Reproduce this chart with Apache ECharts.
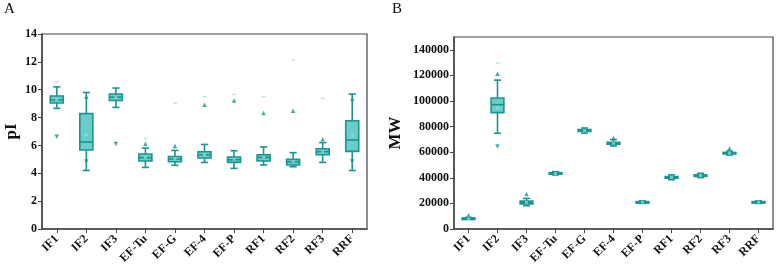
<!DOCTYPE html>
<html>
<head>
<meta charset="utf-8">
<script src="https://cdn.jsdelivr.net/npm/echarts@6/dist/echarts.min.js"></script>
<style>html,body{margin:0;padding:0;background:#fff}#c{width:778px;height:275px}</style>
</head>
<body>
<div id="c"></div>
<script>
const categories = ['IF1','IF2','IF3','EF-Tu','EF-G','EF-4','EF-P','RF1','RF2','RF3','RRF'];

// pI: [lower whisker, Q1, median, Q3, upper whisker]
const piBox = [
  [8.66, 9.05, 9.26, 9.55, 10.2],
  [4.2, 5.67, 6.25, 8.28, 9.8],
  [8.73, 9.23, 9.47, 9.69, 10.12],
  [4.42, 4.88, 5.12, 5.38, 5.81],
  [4.57, 4.83, 5.02, 5.21, 5.64],
  [4.78, 5.1, 5.33, 5.55, 6.07],
  [4.35, 4.78, 4.97, 5.17, 5.62],
  [4.6, 4.88, 5.14, 5.33, 5.89],
  [4.47, 4.6, 4.81, 5.0, 5.48],
  [4.78, 5.33, 5.55, 5.76, 6.2],
  [4.2, 5.57, 6.39, 7.77, 9.69]
];
const piMean = [9.3, 6.77, 9.45, 5.15, 5.05, 5.35, 5.0, 5.15, 4.85, 5.55, 6.7];
const piOutliersUp = [['IF2',9.5],['EF-Tu',6.12],['EF-G',5.96],['EF-4',8.92],['EF-P',9.23],['RF1',8.33],['RF2',8.49],['RF3',6.45],['RRF',9.35]];
const piOutliersDown = [['IF1',6.63],['IF2',4.85],['IF3',6.1],['RRF',4.85]];
const piExtremes = [['IF1',10.55],['EF-Tu',6.48],['EF-G',9.02],['EF-4',9.5],['EF-P',9.66],['RF1',9.5],['RF2',12.15],['RF3',9.38]];

// MW
const mwBox = [
  [7600, 7900, 8300, 8600, 9000],
  [74800, 90900, 97100, 102300, 116300],
  [18200, 19600, 20800, 21800, 23900],
  [42200, 42900, 43400, 44000, 44800],
  [74800, 76200, 76900, 77600, 78900],
  [64900, 66300, 67000, 67700, 69900],
  [20000, 20600, 21000, 21400, 22000],
  [38500, 39600, 40300, 41000, 42300],
  [40200, 41200, 41800, 42300, 43500],
  [57800, 58800, 59300, 59800, 60900],
  [20000, 20600, 21000, 21400, 22000]
];
const mwMean = [8300, 94500, 20800, 43400, 76900, 67000, 21000, 40300, 41800, 59300, 21000];
const mwOutliersUp = [['IF1',10800],['IF2',121300],['IF3',27300],['EF-4',71000],['RF3',62900]];
const mwOutliersDown = [['IF2',64400]];
const mwExtremes = [['IF2',129500]];

const piTicks = {min:0, max:14, interval:2};
const mwTicks = {min:0, max:150000, interval:20000};

const teal = '#1a958f';
const fill = 'rgba(80,196,190,0.85)';
const font = 'Liberation Serif';

function renderBox(params, api) {
  const x = api.value(0);
  const pts = [1,2,3,4,5].map(k => api.coord([x, api.value(k)]));
  const bw = api.size([1,0])[0] * 0.44;
  const cw = bw * 0.55;
  const cx = pts[0][0];
  const ls = {stroke: teal, lineWidth: 1.6};
  return {
    type: 'group',
    children: [
      {type:'line', shape:{x1:cx,y1:pts[4][1],x2:cx,y2:pts[3][1]}, style:ls},
      {type:'line', shape:{x1:cx,y1:pts[1][1],x2:cx,y2:pts[0][1]}, style:ls},
      {type:'line', shape:{x1:cx-cw/2,y1:pts[4][1],x2:cx+cw/2,y2:pts[4][1]}, style:ls},
      {type:'line', shape:{x1:cx-cw/2,y1:pts[0][1],x2:cx+cw/2,y2:pts[0][1]}, style:ls},
      {type:'rect', shape:{x:cx-bw/2,y:pts[3][1],width:bw,height:Math.max(pts[1][1]-pts[3][1],1.5)}, style:{fill:fill, stroke:teal, lineWidth:1.6}},
      {type:'line', shape:{x1:cx-bw/2,y1:pts[2][1],x2:cx+bw/2,y2:pts[2][1]}, style:{stroke:teal, lineWidth:1.6}}
    ]
  };
}

function axesFor(g, ticks, name, gap) {
  return {
    x: {
      type:'category', gridIndex:g, data:categories, boundaryGap:true,
      axisLine:{lineStyle:{color:'#444', width:1.5}},
      axisTick:{show:true, alignWithLabel:true, length:4, lineStyle:{color:'#444'}},
      axisLabel:{rotate:45, margin:8, color:'#111', fontFamily:font, fontWeight:'bold', fontSize:12, interval:0},
      splitLine:{show:false}
    },
    y: {
      type:'value', gridIndex:g, min:ticks.min, max:ticks.max, interval:ticks.interval,
      name:name, nameLocation:'middle', nameGap:gap, nameRotate:90,
      nameTextStyle:{fontFamily:font, fontWeight:'bold', fontSize:17, color:'#111'},
      axisLine:{show:true, lineStyle:{color:'#444', width:1.5}},
      axisTick:{show:true, length:4, lineStyle:{color:'#444'}},
      axisLabel:{color:'#111', fontFamily:font, fontWeight:'bold', fontSize:12, margin:5,
        showMaxLabel: ticks.max % ticks.interval === 0,
        formatter: v => String(v)},
      splitLine:{show:false}
    }
  };
}
const a = axesFor(0, piTicks, 'pI', 22);
const b = axesFor(1, mwTicks, 'MW', 50);

function pts(list){ return list.map(p => [p[0], p[1]]); }

function seriesFor(g, box, mean, up, down, ext) {
  return [
    {type:'custom', xAxisIndex:g, yAxisIndex:g, renderItem:renderBox,
     encode:{x:0, y:[1,2,3,4,5]}, data: box.map((v,i)=>[i].concat(v)), z:2},
    {type:'scatter', xAxisIndex:g, yAxisIndex:g, symbol:'rect', symbolSize:3,
     itemStyle:{color:'rgba(150,220,215,0.9)'}, data: mean.map((v,i)=>[categories[i], v]), z:3},
    {type:'scatter', xAxisIndex:g, yAxisIndex:g, symbol:'triangle', symbolSize:4.5,
     itemStyle:{color:teal}, data: pts(up), z:3},
    {type:'scatter', xAxisIndex:g, yAxisIndex:g, symbol:'triangle', symbolRotate:180, symbolSize:4.5,
     itemStyle:{color:teal}, data: pts(down), z:3},
    {type:'scatter', xAxisIndex:g, yAxisIndex:g, symbol:'rect', symbolSize:[4,1.5],
     itemStyle:{color:'rgba(120,205,200,0.6)'}, data: pts(ext), z:3}
  ];
}

const chart = echarts.init(document.getElementById('c'), null, {renderer:'canvas'});
chart.setOption({
  backgroundColor:'#fff',
  animation:false,
  grid:[
    {left:42, top:34, width:325, height:195, show:true, borderColor:'#444', borderWidth:1.2, backgroundColor:'transparent'},
    {left:454, top:37, width:319, height:192, show:true, borderColor:'#444', borderWidth:1.2, backgroundColor:'transparent'}
  ],
  xAxis:[a.x, b.x],
  yAxis:[a.y, b.y],
  graphic:[
    {type:'text', left:4, top:2, style:{text:'A', font:'15px "Liberation Serif"', fill:'#111'}},
    {type:'text', left:392, top:2, style:{text:'B', font:'15px "Liberation Serif"', fill:'#111'}}
  ],
  series: seriesFor(0, piBox, piMean, piOutliersUp, piOutliersDown, piExtremes)
    .concat(seriesFor(1, mwBox, mwMean, mwOutliersUp, mwOutliersDown, mwExtremes))
});
</script>
</body>
</html>
